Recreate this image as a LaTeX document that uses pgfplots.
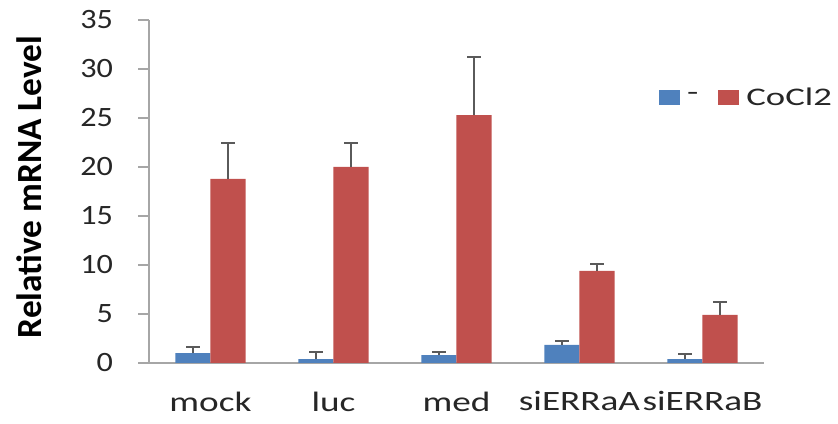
\documentclass[border=0pt]{standalone}
\usepackage{pgfplots}
\pgfplotsset{compat=1.18}
\usepackage{fontspec}
\setmainfont{Carlito}
\definecolor{sblue}{HTML}{4F81BD}
\definecolor{sred}{HTML}{C0504D}
\definecolor{axgray}{HTML}{A6A6A6}
\definecolor{errgray}{HTML}{5A5A5A}
\definecolor{txt}{HTML}{262626}
\begin{document}
\begin{tikzpicture}
\path[use as bounding box] (0,0) rectangle (628.5pt,318pt);
\begin{axis}[
  at={(111.75pt,45.75pt)}, anchor=south west,
  scale only axis, width=461.25pt, height=257.25pt,
  xmin=-0.5, xmax=4.5, ymin=0, ymax=35,
  axis x line*=bottom, axis y line*=left,
  axis line style={axgray, line width=1.1pt},
  every tick/.style={axgray, line width=1.1pt},
  tick align=outside,
  xtick={0,1,2,3,4},
  xticklabels={mock,luc,med,siERRaA,siERRaB},
  major x tick style={draw=none},
  extra x ticks={-0.5,0.5,1.5,2.5,3.5,4.5},
  extra x tick labels={},
  extra x tick style={major tick length=7pt, tick style={axgray, line width=1.1pt}},
  major tick length=8pt,
  ytick={0,5,...,35},
  /pgf/number format/assume math mode=true,
  tick label style={font=\fontsize{21}{25}\selectfont, text=txt},
  xticklabel style={yshift=-10pt, xscale=1.33},
  yticklabel style={xshift=-15pt, xscale=1.15},
  ylabel={\textbf{Relative mRNA Level}},
  every axis y label/.style={at={(axis description cs:-0.195,0.513)}, rotate=90, anchor=center,
    font=\fontsize{26.5}{30}\selectfont\bfseries, text=black},
  legend style={at={(rel axis cs:0.829,0.773)}, anchor=west, draw=none, fill=none,
    font=\fontsize{19}{23}\selectfont, text=txt, legend columns=2, inner sep=0pt,
    /tikz/every even column/.append style={column sep=13pt},
    cells={anchor=west}},
  legend image code/.code={\fill[#1] (0pt,-5.6pt) rectangle (15.75pt,5.6pt); \path (19pt,0pt);},
  error bars/error bar style={errgray, line width=1.5pt},
  error bars/error mark options={rotate=90, errgray, mark size=4.9pt, line width=1.5pt},
  clip=false,
]
\addplot[ybar, bar width=0.285, bar shift=0, fill=sblue, draw=none,
  error bars/.cd, y dir=plus, y explicit]
  coordinates {
  (-0.1425,1.0) +- (0,0.6)
  (0.8575,0.4) +- (0,0.7)
  (1.8575,0.8) +- (0,0.35)
  (2.8575,1.85) +- (0,0.35)
  (3.8575,0.4) +- (0,0.5)
  };
\addlegendentry{\scalebox{1.45}[1]{-}}
\addplot[ybar, bar width=0.285, bar shift=0, fill=sred, draw=none,
  error bars/.cd, y dir=plus, y explicit]
  coordinates {
  (0.1425,18.8) +- (0,3.6)
  (1.1425,20.0) +- (0,2.4)
  (2.1425,25.3) +- (0,5.9)
  (3.1425,9.4) +- (0,0.7)
  (4.1425,4.9) +- (0,1.3)
  };
\addlegendentry{\scalebox{1.45}[1]{CoCl2}}
\end{axis}
\end{tikzpicture}
\end{document}
